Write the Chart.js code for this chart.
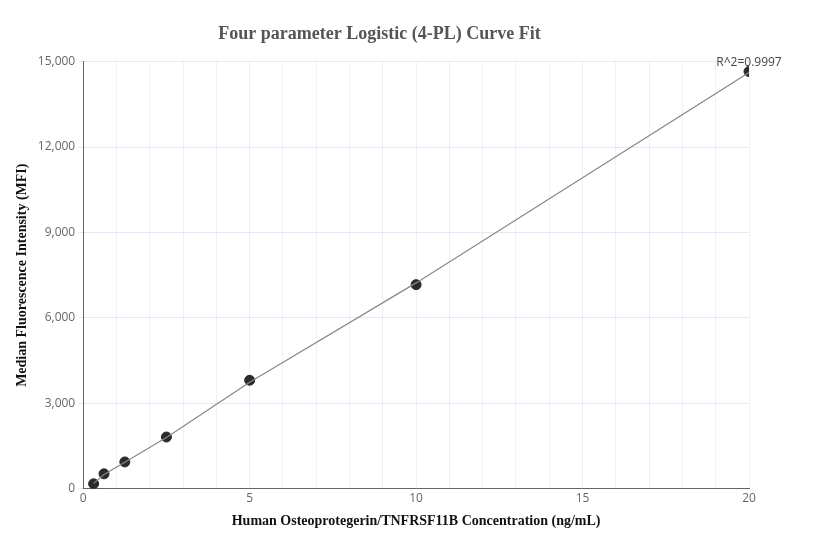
<!DOCTYPE html>
<html>
<head>
<script src="https://cdn.jsdelivr.net/npm/chart.js@4"></script>
<style>
  body { margin: 0; background: #fff; }
  #wrap { width: 832px; height: 560px; }
</style>
</head>
<body>
<div id="wrap"><canvas id="myChart"></canvas></div>
<script>
// 표준 농도 (ng/mL)
const concentrations = [0.3125, 0.625, 1.25, 2.5, 5, 10, 20];
// 측정된 MFI
const mfiValues = [175, 525, 944, 1818, 3811, 7168, 14650];
// 4-PL 피팅 곡선 값
const fitX = [0.3125, 0.625, 1.25, 2.5, 5, 10, 20];
const fitY = [190, 500, 930, 1800, 3740, 7230, 14620];
const rSquaredLabel = 'R^2=0.9997';

const tickColor = '#666';
const gridColor = '#edf0f6';

const ctx = document.getElementById('myChart').getContext('2d');

new Chart(ctx, {
  type: 'scatter',
  data: {
    datasets: [
      {
        label: 'Fit',
        type: 'line',
        data: fitX.map((x, i) => ({ x: x, y: fitY[i] })),
        borderColor: '#888',
        borderWidth: 1.2,
        pointRadius: 0,
        tension: 0,
        fill: false,
      },
      {
        label: 'Standards',
        data: concentrations.map((x, i) => ({ x: x, y: mfiValues[i] })),
        backgroundColor: '#2b2b2b',
        borderColor: '#2b2b2b',
        pointRadius: 5,
      },
    ],
  },
  options: {
    responsive: true,
    maintainAspectRatio: false,
    animation: false,
    layout: { padding: { left: 10, right: 83, top: 14, bottom: 26 } },
    plugins: {
      legend: { display: false },
      tooltip: { enabled: false },
      title: {
        display: true,
        text: 'Four parameter Logistic (4-PL) Curve Fit',
        color: '#555',
        font: { family: 'Liberation Serif', size: 18, weight: 'bold' },
        padding: { top: 10, bottom: 16 },
      },
    },
    scales: {
      x: {
        type: 'linear',
        min: 0,
        max: 20,
        ticks: {
          stepSize: 1,
          color: tickColor,
          font: { family: 'Open Sans', size: 12 },
          callback: (v) => (v % 5 === 0 ? v : ''),
        },
        grid: { color: gridColor, drawTicks: false },
        border: { color: '#666' },
        title: {
          display: true,
          text: 'Human Osteoprotegerin/TNFRSF11B Concentration (ng/mL)',
          color: '#111',
          font: { family: 'Liberation Serif', size: 14, weight: 'bold' },
        },
      },
      y: {
        min: 0,
        max: 15000,
        ticks: {
          stepSize: 3000,
          color: tickColor,
          font: { family: 'Open Sans', size: 12 },
          callback: (v) => v.toLocaleString('en-US'),
        },
        grid: { color: '#e3e8f2', drawTicks: true, tickLength: 5 },
        border: { color: '#666' },
        title: {
          display: true,
          text: 'Median Fluorescence Intensity (MFI)',
          color: '#111',
          font: { family: 'Liberation Serif', size: 14, weight: 'bold' },
        },
      },
    },
  },
  plugins: [
    {
      id: 'r2Label',
      afterDraw: (chart) => {
        const c = chart.ctx;
        const xs = chart.scales.x;
        const ys = chart.scales.y;
        const last = concentrations.length - 1;
        c.save();
        c.fillStyle = '#444';
        c.font = '12px "Open Sans"';
        c.textAlign = 'center';
        c.textBaseline = 'bottom';
        c.fillText(rSquaredLabel, xs.getPixelForValue(concentrations[last]), ys.getPixelForValue(mfiValues[last]) - 3);
        c.restore();
      },
    },
  ],
});
</script>
</body>
</html>
